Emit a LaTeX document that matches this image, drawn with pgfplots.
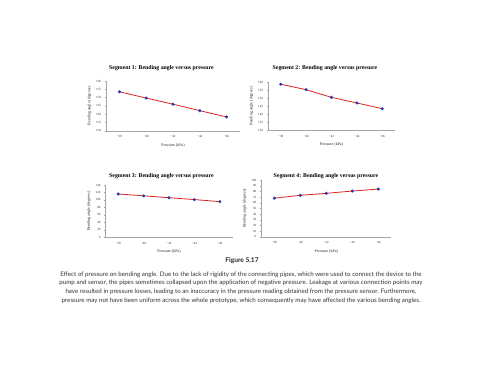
\documentclass[border=0pt]{standalone}
\usepackage{pgfplots}
\pgfplotsset{compat=1.18}
\usepackage{fontspec}
\setmainfont{Liberation Serif}
\newfontfamily\capfont{Lato}
\definecolor{linered}{RGB}{220,35,35}
\definecolor{markblue}{RGB}{40,60,170}
\pgfplotsset{seg/.style={
  scale only axis, anchor=south west,
  xmin=-0.5, xmax=4.5, xtick={0,1,2,3,4},
  xticklabels={−38,−40,−42,−44,−46},
  axis x line*=bottom, axis y line*=left,
  axis line style={black!35, line width=0.3pt},
  tick style={black!35, line width=0.3pt}, major tick length=1.5pt, tick align=outside,
  xtick style={draw=none},
  tick label style={font=\fontsize{3.2}{4}\selectfont, text=black!80},
  label style={font=\fontsize{4}{5}\selectfont, text=black!85},
  xlabel={Pressure (kPa)}, ylabel={Bending angle (degrees)},
  /pgf/number format/assume math mode=true,
  xlabel style={yshift=1.5pt},
  ylabel style={yshift=-2pt},
}, segplot/.style={draw=linered, line width=0.8pt, mark=*, mark size=1.1pt,
     mark options={fill=markblue, draw=markblue}}}
\begin{document}
\begin{tikzpicture}
\path[fill=white, use as bounding box] (0pt,0pt) rectangle (480pt,389pt);
% Segment 1
\begin{axis}[seg, at={(106pt,258.3pt)}, width=134pt, height=49.7pt,
  ymin=130, ymax=160, ytick={130,135,...,160}]
\addplot[segplot] coordinates {(0,153.5) (1,149.7) (2,146.0) (3,142.1) (4,138.3)};
\end{axis}
\node[font=\bfseries\fontsize{5.8}{6}\selectfont] at (161.5pt,321pt) {Segment 1: Bending angle versus pressure};
% Segment 2
\begin{axis}[seg, at={(268pt,259pt)}, width=127pt, height=48pt,
  ymin=130, ymax=160, ytick={130,135,...,160}]
\addplot[segplot] coordinates {(0,158.6) (1,155.2) (2,150.4) (3,146.9) (4,143.3)};
\end{axis}
\node[font=\bfseries\fontsize{5.8}{6}\selectfont] at (325pt,321pt) {Segment 2: Bending angle versus pressure};
% Segment 3
\begin{axis}[seg, at={(105.5pt,151.7pt)}, width=127pt, height=52.3pt,
  ymin=0, ymax=140, ytick={0,20,...,140}]
\addplot[segplot] coordinates {(0,116) (1,111) (2,106) (3,101) (4,95.5)};
\end{axis}
\node[font=\bfseries\fontsize{5.8}{6}\selectfont] at (161.5pt,213pt) {Segment 3: Bending angle versus pressure};
% Segment 4
\begin{axis}[seg, at={(261.3pt,152.3pt)}, width=130pt, height=56.7pt,
  ymin=0, ymax=100, ytick={0,10,...,100}]
\addplot[segplot] coordinates {(0,68) (1,73) (2,76.5) (3,80.5) (4,84)};
\end{axis}
\node[font=\bfseries\fontsize{5.8}{6}\selectfont] at (326pt,213pt) {Segment 4: Bending angle versus pressure};
% Caption
\node[font=\capfont\bfseries\fontsize{6.6}{7}\selectfont, text=black!85] at (242pt,128pt) {Figure 5.17};
\node[font=\capfont\fontsize{6.2}{8.7}\selectfont, align=center, text=black!80, anchor=north] at (241pt,121pt)
{Effect of pressure on bending angle. Due to the lack of rigidity of the connecting pipes, which were used to connect the device to the\\
pump and sensor, the pipes sometimes collapsed upon the application of negative pressure. Leakage at various connection points may\\
have resulted in pressure losses, leading to an inaccuracy in the pressure reading obtained from the pressure sensor. Furthermore,\\
pressure may not have been uniform across the whole prototype, which consequently may have affected the various bending angles.};
\end{tikzpicture}
\end{document}
